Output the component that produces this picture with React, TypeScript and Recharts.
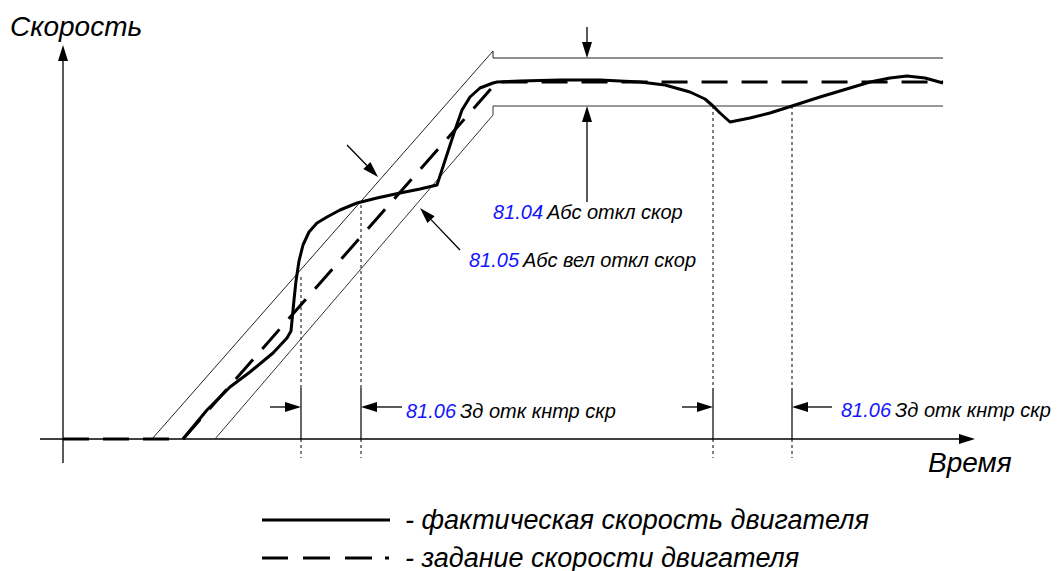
import React from 'react';
import { LineChart, Line, XAxis, YAxis, ReferenceLine, ReferenceDot, Legend } from 'recharts';

// schematic units: time and speed, origin at the axes crossing
const actualTime = [120, 144, 167, 187, 210, 224, 228, 231, 233, 236, 240, 246, 254, 264, 277, 294, 314, 337, 357, 374, 392, 399, 407, 417, 430, 434, 457, 497, 537, 577, 602, 627, 642, 650, 657, 667, 687, 707, 729, 757, 787, 807, 827, 844, 862, 880];
const actualSpeed = [0, 29, 52, 67, 86, 101, 108, 139, 158, 178, 194, 207, 216, 222, 229, 236, 241, 246, 250, 254, 309, 329, 342, 351, 356, 357, 358, 359, 359, 357, 354, 347, 340, 333, 326, 317, 321, 326, 333, 342, 351, 357, 361, 363, 361, 356];

const refTime = [0, 120, 434, 880];
const refSpeed = [0, 0, 357, 357];

const upperTime = [89, 430, 430, 880];
const upperSpeed = [0, 388, 381, 381];
const lowerTime = [152, 430, 430, 880];
const lowerSpeed = [0, 324, 333, 333];

// points where the speed leaves / re-enters the window
const tripTimes = [238, 298, 650, 729];
const tripSpeeds = [162, 234, 333, 333];
const markerTop = 51;
const markerBottom = -19;

// [t1, v1, t2, v2] from tail to tip
const arrows = [
  [-23, 0, 912, 0],
  [0, -24, 0, 394],
  [207, 32, 238, 32],
  [339, 32, 298, 32],
  [619, 32, 650, 32],
  [769, 32, 729, 32],
  [524, 412, 524, 381],
  [524, 237, 524, 333],
  [284, 294, 315, 262],
  [397, 189, 357, 231],
];

const paramLabels = [
  { t: 430, v: 220, code: '81.04', text: 'Абс откл скор' },
  { t: 406, v: 172, code: '81.05', text: 'Абс вел откл скор' },
  { t: 343, v: 21, code: '81.06', text: 'Зд отк кнтр скр' },
  { t: 778, v: 22, code: '81.06', text: 'Зд отк кнтр скр' },
];

const axisLabels = [
  { t: -53, v: 403, text: 'Скорость' },
  { t: 865, v: -33, text: 'Время' },
];

const ACTUAL = 'фактическая скорость двигателя';
const REFERENCE = 'задание скорости двигателя';
const legendOrder = [ACTUAL, REFERENCE];
const legendDash: Record<string, string> = {
  [ACTUAL]: '',
  [REFERENCE]: '26 15 27 15 27 13 4 200',
};

const zip = (ts: number[], vs: number[]) => ts.map((t, i) => ({ t, v: vs[i] }));

const FONT = '"Liberation Sans", Arial, sans-serif';
const BLUE = '#1414ff';

const Arrow = (props: any) => {
  const { x1, y1, x2, y2 } = props;
  const head = 16;
  const half = 5;
  const dx = x2 - x1;
  const dy = y2 - y1;
  const len = Math.hypot(dx, dy) || 1;
  const ux = dx / len;
  const uy = dy / len;
  const bx = x2 - ux * head;
  const by = y2 - uy * head;
  const pts = `${x2},${y2} ${bx - uy * half},${by + ux * half} ${bx + uy * half},${by - ux * half}`;
  return (
    <g>
      <line x1={x1} y1={y1} x2={bx} y2={by} stroke="#000" strokeWidth={1.3} />
      <polygon points={pts} fill="#000" />
    </g>
  );
};

const LegendContent = (props: any) => {
  const items = (props.payload || [])
    .filter((p: any) => legendOrder.includes(p.value))
    .sort((a: any, b: any) => legendOrder.indexOf(a.value) - legendOrder.indexOf(b.value));
  return (
    <div style={{ fontFamily: FONT, fontStyle: 'italic', fontSize: 27, lineHeight: 1, color: '#000' }}>
      {items.map((item: any) => (
        <div key={item.value} style={{ display: 'flex', alignItems: 'center', height: 38 }}>
          <svg width={128} height={6}>
            <line x1={0} y1={3} x2={128} y2={3} stroke="#000" strokeWidth={3} strokeDasharray={legendDash[item.value]} />
          </svg>
          <span style={{ marginLeft: 15, whiteSpace: 'nowrap' }}>- {item.value}</span>
        </div>
      ))}
    </div>
  );
};

export default function App() {
  return (
    <div style={{ position: 'absolute', left: 0, top: 0, background: '#fff' }}>
      <LineChart width={1058} height={571} margin={{ top: 0, right: 0, bottom: 0, left: 0 }}>
        <XAxis dataKey="t" type="number" domain={[-63, 995]} allowDataOverflow hide />
        <YAxis type="number" domain={[-132, 439]} allowDataOverflow hide />

        {tripTimes.map((t, i) => (
          <ReferenceLine key={`d${i}`} segment={[{ x: t, y: tripSpeeds[i] }, { x: t, y: markerTop }]} stroke="#000" strokeWidth={1} strokeDasharray="3 3" ifOverflow="visible" />
        ))}
        {tripTimes.map((t, i) => (
          <ReferenceLine key={`s${i}`} segment={[{ x: t, y: markerTop }, { x: t, y: 0 }]} stroke="#000" strokeWidth={1.2} ifOverflow="visible" />
        ))}
        {tripTimes.map((t, i) => (
          <ReferenceLine key={`b${i}`} segment={[{ x: t, y: 0 }, { x: t, y: markerBottom }]} stroke="#000" strokeWidth={1} strokeDasharray="3 3" ifOverflow="visible" />
        ))}

        {arrows.map((a, i) => (
          <ReferenceLine key={`a${i}`} segment={[{ x: a[0], y: a[1] }, { x: a[2], y: a[3] }]} ifOverflow="visible" shape={(p: any) => <Arrow {...p} />} />
        ))}

        <Line data={zip(upperTime, upperSpeed)} dataKey="v" type="linear" stroke="#222" strokeWidth={1} dot={false} activeDot={false} legendType="none" isAnimationActive={false} />
        <Line data={zip(lowerTime, lowerSpeed)} dataKey="v" type="linear" stroke="#333" strokeWidth={1} dot={false} activeDot={false} legendType="none" isAnimationActive={false} />
        <Line data={zip(actualTime, actualSpeed)} dataKey="v" name={ACTUAL} type="linear" stroke="#000" strokeWidth={3} strokeLinejoin="round" dot={false} activeDot={false} isAnimationActive={false} />
        <Line data={zip(refTime, refSpeed)} dataKey="v" name={REFERENCE} type="linear" stroke="#000" strokeWidth={3} strokeDasharray="26 14" dot={false} activeDot={false} isAnimationActive={false} />

        {paramLabels.map((l, i) => (
          <ReferenceDot key={`l${i}`} x={l.t} y={l.v} r={0} ifOverflow="visible" shape={(p: any) => (
            <text x={p.cx} y={p.cy} fontFamily={FONT} fontSize={20} fontStyle="italic">
              <tspan fill={BLUE}>{l.code}</tspan>
              <tspan fill="#000" dx={4}>{l.text}</tspan>
            </text>
          )} />
        ))}
        {axisLabels.map((l, i) => (
          <ReferenceDot key={`x${i}`} x={l.t} y={l.v} r={0} ifOverflow="visible" shape={(p: any) => (
            <text x={p.cx} y={p.cy} fontFamily={FONT} fontSize={28} fontStyle="italic" fill="#000">{l.text}</text>
          )} />
        ))}

        <Legend verticalAlign="middle" align="center" layout="horizontal" content={<LegendContent />} wrapperStyle={{ left: 262, top: 501, width: 780, height: 70 }} />
      </LineChart>
    </div>
  );
}
